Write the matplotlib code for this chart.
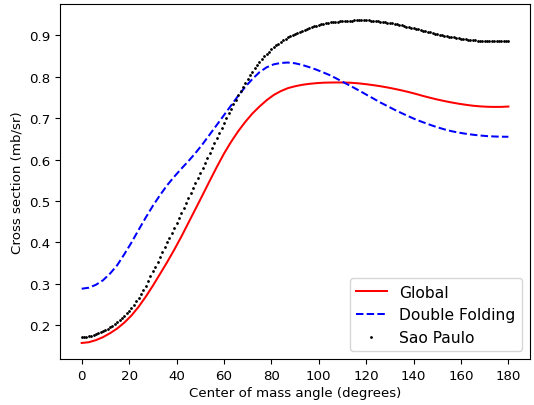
import numpy as np
import matplotlib
matplotlib.use('Agg')
import matplotlib.pyplot as plt

# angles for the two potential curves (every 3 degrees)
angle_3 = list(range(0, 181, 3))

global_xs = [
    0.1570, 0.1588, 0.1638, 0.1711, 0.1807, 0.1920, 0.2062, 0.2233, 0.2443, 0.2685,
    0.2950, 0.3232, 0.3517, 0.3817, 0.4134, 0.4470, 0.4805, 0.5143, 0.5485, 0.5820,
    0.6140, 0.6425, 0.6682, 0.6909, 0.7111, 0.7280, 0.7432, 0.7559, 0.7653, 0.7725,
    0.7770, 0.7805, 0.7828, 0.7845, 0.7856, 0.7860, 0.7862, 0.7860, 0.7853, 0.7839,
    0.7820, 0.7797, 0.7771, 0.7741, 0.7707, 0.7670, 0.7629, 0.7585, 0.7536, 0.7492,
    0.7450, 0.7413, 0.7379, 0.7349, 0.7323, 0.7300, 0.7285, 0.7275, 0.7271, 0.7272,
    0.7280]

double_folding_xs = [
    0.2880, 0.2905, 0.2975, 0.3085, 0.3248, 0.3450, 0.3715, 0.3995, 0.4300, 0.4596,
    0.4880, 0.5137, 0.5376, 0.5583, 0.5777, 0.5960, 0.6157, 0.6372, 0.6604, 0.6836,
    0.7070, 0.7304, 0.7537, 0.7755, 0.7944, 0.8110, 0.8227, 0.8299, 0.8333, 0.8343,
    0.8325, 0.8285, 0.8231, 0.8171, 0.8102, 0.8030, 0.7941, 0.7850, 0.7760, 0.7667,
    0.7570, 0.7475, 0.7378, 0.7290, 0.7202, 0.7120, 0.7041, 0.6965, 0.6901, 0.6838,
    0.6780, 0.6729, 0.6685, 0.6651, 0.6623, 0.6600, 0.6581, 0.6566, 0.6557, 0.6552,
    0.6550]

# Sao Paulo potential, one point per degree
angle_1 = list(range(0, 181))

sao_paulo_xs = [
    0.1710, 0.1713, 0.1720, 0.1730, 0.1743, 0.1760, 0.1780, 0.1802, 0.1826, 0.1852,
    0.1880, 0.1911, 0.1946, 0.1984, 0.2025, 0.2070, 0.2119, 0.2172, 0.2228, 0.2287,
    0.2350, 0.2420, 0.2495, 0.2575, 0.2660, 0.2750, 0.2850, 0.2956, 0.3067, 0.3182,
    0.3300, 0.3416, 0.3532, 0.3648, 0.3764, 0.3880, 0.3998, 0.4116, 0.4234, 0.4352,
    0.4470, 0.4590, 0.4710, 0.4830, 0.4950, 0.5070, 0.5190, 0.5310, 0.5430, 0.5550,
    0.5670, 0.5792, 0.5914, 0.6036, 0.6158, 0.6280, 0.6401, 0.6522, 0.6642, 0.6762,
    0.6880, 0.6997, 0.7113, 0.7227, 0.7339, 0.7450, 0.7558, 0.7662, 0.7762, 0.7858,
    0.7950, 0.8038, 0.8123, 0.8205, 0.8284, 0.8360, 0.8428, 0.8491, 0.8551, 0.8607,
    0.8660, 0.8710, 0.8756, 0.8800, 0.8842, 0.8880, 0.8915, 0.8948, 0.8980, 0.9011,
    0.9040, 0.9067, 0.9092, 0.9116, 0.9139, 0.9160, 0.9180, 0.9199, 0.9217, 0.9234,
    0.9250, 0.9265, 0.9278, 0.9290, 0.9301, 0.9310, 0.9318, 0.9325, 0.9331, 0.9336,
    0.9340, 0.9346, 0.9351, 0.9355, 0.9358, 0.9360, 0.9361, 0.9362, 0.9362, 0.9362,
    0.9361, 0.9359, 0.9356, 0.9352, 0.9347, 0.9341, 0.9334, 0.9326, 0.9318, 0.9309,
    0.9300, 0.9289, 0.9277, 0.9265, 0.9253, 0.9240, 0.9226, 0.9212, 0.9198, 0.9184,
    0.9170, 0.9156, 0.9142, 0.9128, 0.9114, 0.9100, 0.9086, 0.9072, 0.9058, 0.9044,
    0.9030, 0.9017, 0.9005, 0.8993, 0.8981, 0.8970, 0.8959, 0.8949, 0.8939, 0.8929,
    0.8920, 0.8911, 0.8903, 0.8896, 0.8890, 0.8885, 0.8880, 0.8875, 0.8871, 0.8868,
    0.8865, 0.8863, 0.8861, 0.8860, 0.8859, 0.8859, 0.8859, 0.8859, 0.8860, 0.8861,
    0.8862]

x_ticks = [0, 20, 40, 60, 80, 100, 120, 140, 160, 180]
y_ticks = [0.2, 0.3, 0.4, 0.5, 0.6, 0.7, 0.8, 0.9]


fig = plt.figure(figsize=(5.34, 4.06), dpi=100)
ax = fig.add_axes([0.113, 0.113, 0.879, 0.874])

ax.plot(angle_3, global_xs, 'r-', lw=1.45, label='Global')
ax.plot(angle_3, double_folding_xs, 'b--', lw=1.45, label='Double Folding')
ax.plot(angle_1, sao_paulo_xs, 'k.', ms=2.0, label='Sao Paulo')

ax.set_xlim(-9, 189)
ax.set_ylim(0.118, 0.975)
ax.set_xticks(x_ticks)
ax.set_yticks(y_ticks)
ax.set_yticklabels(['%.1f' % v for v in y_ticks])
ax.tick_params(labelsize=9.6, length=3.5)

ax.set_xlabel('Center of mass angle (degrees)', fontsize=9.6, labelpad=3)
ax.set_ylabel('Cross section (mb/sr)', fontsize=9.6, labelpad=4)

ax.legend(loc='lower right', fontsize=11.2)

plt.savefig('out.png', dpi=100)
plt.close()
